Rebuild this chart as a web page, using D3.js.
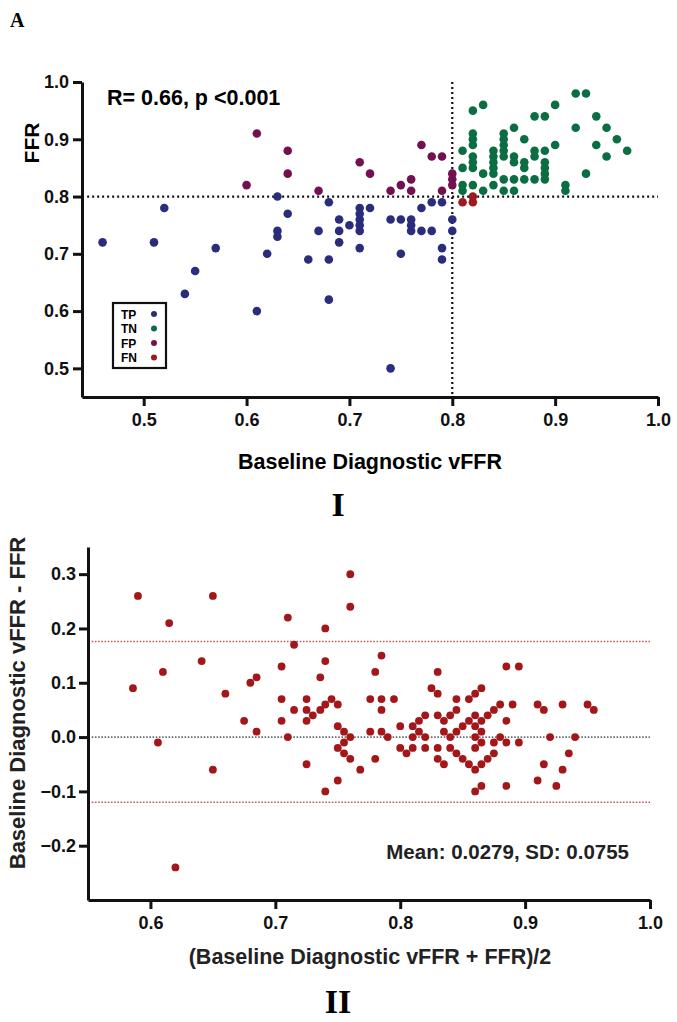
<!DOCTYPE html>
<html>
<head>
<meta charset="utf-8">
<script src="https://cdn.jsdelivr.net/npm/d3@7"></script>
<style>
  body { margin: 0; background: #fff; }
  svg { display: block; }
  text { font-family: "Liberation Sans", Arial, sans-serif; font-weight: bold; }
  .serif { font-family: "Liberation Serif", "Times New Roman", serif; }
</style>
</head>
<body>
<div id="viz"></div>
<script>
// ---- panel I data: [Baseline Diagnostic vFFR, FFR] ----
var tpPoints = [[0.46,0.72],[0.51,0.72],[0.52,0.78],[0.54,0.63],[0.55,0.67],[0.57,0.71],[0.61,0.60],[0.62,0.70],
  [0.63,0.80],[0.63,0.74],[0.63,0.73],[0.64,0.77],[0.66,0.69],[0.67,0.74],[0.68,0.79],[0.68,0.69],[0.68,0.62],
  [0.69,0.76],[0.69,0.74],[0.69,0.72],[0.70,0.75],[0.71,0.78],[0.71,0.77],[0.71,0.76],[0.71,0.75],[0.71,0.74],
  [0.71,0.71],[0.72,0.78],[0.74,0.76],[0.74,0.50],[0.75,0.76],[0.75,0.70],[0.76,0.76],[0.76,0.75],[0.76,0.74],
  [0.77,0.78],[0.77,0.74],[0.78,0.79],[0.78,0.74],[0.79,0.79],[0.79,0.71],[0.79,0.69],[0.80,0.76],[0.80,0.74]];
var tnPoints = [[0.81,0.88],[0.81,0.85],[0.81,0.82],[0.81,0.81],
  [0.82,0.95],[0.82,0.91],[0.82,0.90],[0.82,0.89],[0.82,0.87],[0.82,0.86],[0.82,0.85],[0.82,0.82],
  [0.83,0.96],[0.83,0.84],[0.83,0.81],
  [0.84,0.88],[0.84,0.87],[0.84,0.86],[0.84,0.85],[0.84,0.84],[0.84,0.82],
  [0.85,0.91],[0.85,0.90],[0.85,0.89],[0.85,0.88],[0.85,0.87],[0.85,0.83],[0.85,0.81],
  [0.86,0.92],[0.86,0.87],[0.86,0.86],[0.86,0.83],[0.86,0.81],
  [0.87,0.90],[0.87,0.86],[0.87,0.85],[0.87,0.83],
  [0.88,0.94],[0.88,0.88],[0.88,0.87],[0.88,0.83],
  [0.89,0.94],[0.89,0.88],[0.89,0.86],[0.89,0.85],[0.89,0.84],[0.89,0.83],
  [0.90,0.96],[0.90,0.89],[0.91,0.82],[0.91,0.81],[0.92,0.98],[0.92,0.92],[0.93,0.98],[0.93,0.84],
  [0.94,0.94],[0.94,0.89],[0.95,0.92],[0.95,0.87],[0.96,0.90],[0.97,0.88]];
var fpPoints = [[0.60,0.82],[0.61,0.91],[0.64,0.88],[0.64,0.84],[0.67,0.81],[0.71,0.86],[0.72,0.84],[0.74,0.81],
  [0.75,0.82],[0.76,0.83],[0.76,0.81],[0.77,0.89],[0.78,0.87],[0.79,0.87],[0.79,0.81],[0.80,0.84],[0.80,0.83],[0.80,0.82]];
var fnPoints = [[0.81,0.79],[0.82,0.79],[0.82,0.80]];

var groupNames = ["TP", "TN", "FP", "FN"];
var groupColors = ["#2a2c7c", "#0b6e42", "#74104f", "#9b1b1e"];
var xTicksI = [0.5, 0.6, 0.7, 0.8, 0.9, 1.0];
var yTicksI = [0.5, 0.6, 0.7, 0.8, 0.9, 1.0];
var cutoff = 0.8;

// ---- panel II data: [mean of vFFR and FFR, vFFR - FFR] ----
var baPoints = [[0.586,0.09],[0.590,0.26],[0.606,-0.01],[0.610,0.12],[0.615,0.21],[0.620,-0.24],[0.641,0.14],
  [0.650,0.26],[0.650,-0.06],[0.660,0.08],[0.675,0.03],[0.680,0.10],[0.685,0.11],[0.685,0.01],[0.705,0.13],
  [0.705,0.07],[0.705,0.03],[0.710,0.22],[0.710,0.00],[0.715,0.17],[0.715,0.05],[0.725,0.07],[0.725,0.05],
  [0.725,0.03],[0.725,-0.05],[0.730,0.04],[0.736,0.11],[0.736,0.05],[0.740,0.20],[0.740,0.14],[0.740,0.06],
  [0.740,-0.10],[0.745,0.07],[0.750,0.06],[0.750,0.02],[0.750,-0.02],[0.750,-0.08],[0.755,0.01],[0.755,-0.01],
  [0.755,-0.03],[0.760,0.30],[0.760,0.24],[0.760,0.00],[0.760,-0.04],[0.768,-0.06],[0.776,0.07],[0.776,0.01],
  [0.780,0.12],[0.780,-0.04],[0.785,0.15],[0.785,0.07],[0.785,0.05],[0.785,0.01],[0.790,0.00],[0.795,0.07],
  [0.800,0.02],[0.800,-0.02],[0.805,-0.03],[0.810,0.02],[0.810,0.00],[0.810,-0.02],[0.815,0.03],[0.815,0.01],
  [0.820,0.04],[0.820,0.00],[0.820,-0.02],[0.825,0.09],[0.830,0.12],[0.830,0.08],[0.830,0.04],[0.830,-0.02],
  [0.830,-0.04],[0.835,0.03],[0.835,0.01],[0.835,-0.05],[0.840,0.04],[0.840,0.00],[0.840,-0.02],[0.845,0.07],
  [0.845,0.05],[0.845,0.01],[0.845,-0.03],[0.850,0.02],[0.850,-0.04],[0.855,0.07],[0.855,0.03],[0.855,-0.05],
  [0.860,0.08],[0.860,0.04],[0.860,0.02],[0.860,0.00],[0.860,-0.02],[0.860,-0.06],[0.860,-0.10],[0.865,0.09],
  [0.865,0.03],[0.865,0.01],[0.865,-0.01],[0.865,-0.05],[0.865,-0.09],[0.870,0.04],[0.870,-0.04],[0.875,0.05],
  [0.875,-0.01],[0.875,-0.03],[0.880,0.06],[0.880,0.00],[0.885,0.13],[0.885,0.03],[0.885,-0.01],[0.885,-0.09],
  [0.890,0.06],[0.895,0.13],[0.895,-0.01],[0.910,0.06],[0.910,-0.08],[0.915,0.05],[0.915,-0.05],[0.920,0.00],
  [0.925,-0.09],[0.930,0.06],[0.930,-0.06],[0.935,-0.03],[0.940,0.00],[0.950,0.06],[0.955,0.05]];
var baMean = 0.0279, baSD = 0.0755;
var xTicksII = [0.6, 0.7, 0.8, 0.9, 1.0];
var yTicksII = [-0.2, -0.1, 0.0, 0.1, 0.2, 0.3];

var width = 677, height = 1022;

var svg = d3.select('#viz').append('svg')
    .attr("width", width)
    .attr("height", height);

// letters
svg.append("text").attr("class", "serif").attr("x", 10).attr("y", 27)
    .style("font-size", "20px").text("A");
svg.append("text").attr("class", "serif").attr("x", 338).attr("y", 516)
    .attr("text-anchor", "middle").style("font-size", "34px").text("I");
svg.append("text").attr("class", "serif").attr("x", 338).attr("y", 1013)
    .attr("text-anchor", "middle").style("font-size", "34px").text("II");

function styleAxis(g) {
    g.selectAll("path, line").attr("stroke", "#111").attr("stroke-width", 3);
    g.selectAll("text").style("font-size", "18px").attr("fill", "#111");
}

// ================= panel I =================
var x1 = d3.scaleLinear().domain([0.44, 1.0]).range([82, 658]);
var y1 = d3.scaleLinear().domain([0.45, 1.0]).range([397, 82]);

var g1 = svg.append("g");

// cutoff lines
g1.append("line")
    .attr("x1", x1(0.445)).attr("x2", x1(1.0))
    .attr("y1", y1(cutoff)).attr("y2", y1(cutoff))
    .attr("stroke", "#111").attr("stroke-width", 2.2).attr("stroke-dasharray", "2,3");
g1.append("line")
    .attr("x1", x1(cutoff)).attr("x2", x1(cutoff))
    .attr("y1", y1(1.0)).attr("y2", y1(0.45))
    .attr("stroke", "#111").attr("stroke-width", 2.2).attr("stroke-dasharray", "2,3");

var groups = [tpPoints, tnPoints, fpPoints, fnPoints];
groups.forEach(function(pts, i) {
    g1.selectAll(".pt" + i)
        .data(pts)
        .enter().append("circle")
            .attr("class", "pt" + i)
            .attr("cx", function(d) { return x1(d[0]); })
            .attr("cy", function(d) { return y1(d[1]); })
            .attr("r", 4.3)
            .attr("fill", groupColors[i]);
});

g1.append("g")
    .attr("transform", "translate(0," + y1(0.45) + ")")
    .call(d3.axisBottom(x1).tickValues(xTicksI).tickFormat(d3.format(".1f")).tickSize(9).tickSizeOuter(0).tickPadding(7))
    .call(styleAxis);

g1.append("g")
    .attr("transform", "translate(" + x1(0.44) + ",0)")
    .call(d3.axisLeft(y1).tickValues(yTicksI).tickFormat(d3.format(".1f")).tickSize(9).tickSizeOuter(0).tickPadding(4))
    .call(styleAxis);

g1.append("text")
    .attr("x", 370).attr("y", 469)
    .attr("text-anchor", "middle")
    .style("font-size", "21.5px")
    .text("Baseline Diagnostic vFFR");

g1.append("text")
    .attr("transform", "translate(39,143) rotate(-90)")
    .attr("text-anchor", "middle")
    .style("font-size", "21px")
    .text("FFR");

g1.append("text")
    .attr("x", 107).attr("y", 105)
    .style("font-size", "21.5px")
    .text("R= 0.66, p <0.001");

// legend
var legend = g1.append("g").attr("transform", "translate(113,303)");
legend.append("rect")
    .attr("width", 53).attr("height", 65)
    .attr("fill", "#fff").attr("stroke", "#111").attr("stroke-width", 2.2);
groupNames.forEach(function(name, i) {
    legend.append("text")
        .attr("x", 8).attr("y", 15.5 + i * 14.5)
        .style("font-size", "12px")
        .text(name);
    legend.append("circle")
        .attr("cx", 41).attr("cy", 11 + i * 14.5)
        .attr("r", 3)
        .attr("fill", groupColors[i]);
});

// ================= panel II =================
var x2 = d3.scaleLinear().domain([0.55, 1.0]).range([88, 650]);
var y2 = d3.scaleLinear().domain([-0.3, 0.35]).range([900, 547]);

var g2 = svg.append("g");

var upper = baMean + 1.96 * baSD, lower = baMean - 1.96 * baSD;

g2.append("line")
    .attr("x1", x2(0.553)).attr("x2", x2(1.0))
    .attr("y1", y2(0)).attr("y2", y2(0))
    .attr("stroke", "#6b6f6f").attr("stroke-width", 1.6).attr("stroke-dasharray", "1.6,1.6");
[upper, lower].forEach(function(v) {
    g2.append("line")
        .attr("x1", x2(0.553)).attr("x2", x2(1.0))
        .attr("y1", y2(v)).attr("y2", y2(v))
        .attr("stroke", "#c9565a").attr("stroke-width", 1.6).attr("stroke-dasharray", "1.6,1.6");
});

g2.selectAll(".ba")
    .data(baPoints)
    .enter().append("circle")
        .attr("class", "ba")
        .attr("cx", function(d) { return x2(d[0]); })
        .attr("cy", function(d) { return y2(d[1]); })
        .attr("r", 3.9)
        .attr("fill", "#a3171b");

g2.append("g")
    .attr("transform", "translate(0," + y2(-0.3) + ")")
    .call(d3.axisBottom(x2).tickValues(xTicksII).tickFormat(d3.format(".1f")).tickSize(9).tickSizeOuter(0).tickPadding(7))
    .call(styleAxis);

g2.append("g")
    .attr("transform", "translate(" + x2(0.55) + ",0)")
    .call(d3.axisLeft(y2).tickValues(yTicksII).tickFormat(d3.format(".1f")).tickSize(9).tickSizeOuter(0).tickPadding(3))
    .call(styleAxis);

g2.append("text")
    .attr("x", 370).attr("y", 964)
    .attr("text-anchor", "middle")
    .style("font-size", "21.5px").attr("fill", "#222")
    .text("(Baseline Diagnostic vFFR + FFR)/2");

g2.append("text")
    .attr("transform", "translate(25,703) rotate(-90)")
    .attr("text-anchor", "middle")
    .style("font-size", "22px").attr("fill", "#222")
    .text("Baseline Diagnostic vFFR - FFR");

g2.append("text")
    .attr("x", 629).attr("y", 859)
    .attr("text-anchor", "end")
    .style("font-size", "20.5px").attr("fill", "#222")
    .text("Mean: " + baMean + ", SD: " + baSD);
</script>
</body>
</html>
